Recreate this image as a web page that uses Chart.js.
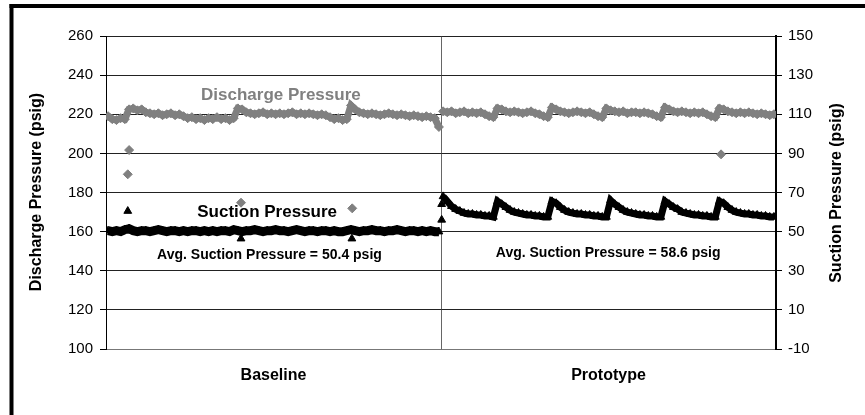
<!DOCTYPE html>
<html>
<head>
<meta charset="utf-8">
<script src="https://cdn.jsdelivr.net/npm/chart.js@4/dist/chart.umd.min.js"></script>
<style>
  html, body { margin: 0; padding: 0; background: #fff; }
  canvas { display: block; }
</style>
</head>
<body>
<canvas id="pressureChart" width="865" height="415"></canvas>
<script>
// categories on the x axis (each one is a block of 100 samples)
const categories = ['Baseline', 'Prototype'];

// axis ticks
const dischargeTicks = [100, 120, 140, 160, 180, 200, 220, 240, 260];
const suctionTicks = [-10, 10, 30, 50, 70, 90, 110, 130, 150];

// discharge pressure (psig)
const dischargeBaseline = [
    219, 217.5, 217, 218, 217.5,
    222.5, 223, 222, 222.5, 221,
    220.5, 220, 220.5, 219.5, 220, 220.5, 219.5, 220, 219,
    218, 218.5, 217.5, 218, 217, 218, 217.5, 218.5, 217.5, 218, 217,
    218,
    223, 222.5,
    221, 220.5, 220, 220.5, 221, 220, 220.5, 220, 220.5, 220,
    220.5, 221, 220, 220.5, 220, 220.5, 220, 219.5, 220, 219.5,
    218.5, 217.5, 218, 217, 217.5,
    224.5, 222.5,
    221, 220.5, 220, 220.5, 220, 219.5, 220, 220.5, 220, 219.5,
    220, 219.5, 219, 219.5, 219, 218.5, 219, 218.5, 218,
    213.5
];
const dischargePrototype = [
    221.5, 221, 221.5, 220.5, 221, 221.5, 220.5, 221, 220.5, 221, 220,
    219, 218.5, 223, 222.5,
    221.5, 221, 221.5, 221, 220.5, 221, 221.5, 220.5, 220,
    219, 218.5, 223.5, 222.5,
    221.5, 221, 220.5, 221, 221.5, 221, 220.5, 221, 220,
    219, 218.5, 223, 222,
    221.5, 221, 221.5, 220.5, 221, 221, 220.5, 221, 220.5, 220,
    219, 218.5, 223.5, 222.5,
    221.5, 221, 221.5, 221, 220.5, 221, 220.5, 221, 220,
    219, 218.5, 223, 222.5,
    221.5, 221, 220.5, 221, 220.5, 221, 220.5, 220, 220.5, 220, 219.5, 220
];
// stray discharge readings (sample position, psig)
const dischargeOutlierSample = [6.5, 6.9, 40.3, 73.5, 183.6];
const dischargeOutlierValue = [189.3, 201.7, 174.8, 171.9, 199.5];

// suction pressure (psig)
const suctionBaseline = [
    50.5, 50, 50.5, 50, 51, 51.5, 50.5, 50, 50.5, 50.5,
    50, 50.5, 51, 50.5, 50, 50.5, 50.5, 50, 50.5, 50,
    50.5, 50.5, 50, 50.5, 50, 50.5, 50, 50.5, 50.5, 50,
    51, 50.5, 50, 50.5, 50.5, 51, 50.5, 50, 50.5, 50.5,
    51, 50.5, 50.5, 50, 50.5, 51, 50.5, 50, 50.5, 50.5,
    50, 50.5, 50.5, 50, 50.5, 50, 50, 50.5, 51, 50.5,
    50, 50.5, 50.5, 51, 50.5, 50.5, 50, 50.5, 50.5, 51,
    50.5, 50, 50.5, 50.5, 50, 50.5, 50, 50.5, 50, 50
];
const suctionPrototype = [
    68, 65.5, 63, 61.5, 60.5, 59.5, 59, 59, 58.5, 58.5, 58, 58, 57.5,
    65.5, 64, 62.5, 61, 60, 59.5, 59, 58.5, 58.5, 58, 58, 57.5, 57.5,
    65.5, 64.5, 62.5, 61, 60, 59.5, 59, 59, 58.5, 58.5, 58, 58, 57.5, 57.5,
    66, 64, 62.5, 61, 60, 59.5, 59, 58.5, 58.5, 58, 58, 57.5, 57.5,
    65.5, 64, 62.5, 61.5, 60, 59.5, 59, 58.5, 58.5, 58, 58, 57.5, 57.5,
    65.5, 64.5, 62.5, 61, 60, 59.5, 59, 59, 58.5, 58.5, 58, 58, 57.5, 57.5
];
const suctionOutlierSample = [6.5, 40.3, 73.4, 100.2, 100.2];
const suctionOutlierValue = [60.5, 46.4, 46.4, 64, 56];

// text placed on the plot (sample position, discharge-axis value)
const notes = [
    { text: 'Discharge Pressure', x: 52.2, y: 229.5, color: '#808080', size: 17 },
    { text: 'Suction Pressure', x: 48.1, y: 170, color: '#000', size: 17 },
    { text: 'Avg. Suction Pressure = 50.4 psig', x: 48.8, y: 148, color: '#000', size: 14 },
    { text: 'Avg. Suction Pressure = 58.6 psig', x: 149.9, y: 148.8, color: '#000', size: 14 }
];

const FONT = "'Liberation Sans', Arial, sans-serif";
Chart.defaults.font.family = FONT;
Chart.defaults.color = '#000';

const toPoints = (values, start) => {
    const step = 100 / values.length;
    return values.map((v, i) => ({ x: start + (i + 0.5) * step, y: v }));
};
const zip = (xs, ys) => xs.map((x, i) => ({ x: x, y: ys[i] }));

const gray = '#808080';
const dischargeStyle = {
    yAxisID: 'y', pointStyle: 'rectRot', pointRadius: 4.5, pointBorderWidth: 1,
    backgroundColor: gray, borderColor: gray
};
const suctionStyle = {
    yAxisID: 'y2', pointStyle: 'triangle', pointRadius: 4.5, pointBorderWidth: 1,
    backgroundColor: '#000', borderColor: '#000'
};
// the recorded runs are so dense the markers merge into a band
const band = (width) => ({ showLine: true, borderWidth: width, tension: 0 });

// frame, axis titles and notes
const decorations = {
    id: 'decorations',
    beforeDraw(chart) {
        const c = chart.ctx;
        c.save();
        c.fillStyle = '#000';
        c.fillRect(9.5, 4, 4, chart.height);
        c.fillRect(9.5, 4, chart.width, 4);
        c.restore();
    },
    afterDraw(chart) {
        const c = chart.ctx;
        const xs = chart.scales.x, ys = chart.scales.y;
        c.save();
        c.textAlign = 'center';
        c.textBaseline = 'middle';
        c.font = 'bold 16px ' + FONT;
        c.fillStyle = '#000';
        c.translate(37, 192);
        c.rotate(-Math.PI / 2);
        c.fillText('Discharge Pressure (psig)', 0, 0);
        c.restore();

        c.save();
        c.textAlign = 'center';
        c.textBaseline = 'middle';
        c.font = 'bold 16px ' + FONT;
        c.fillStyle = '#000';
        c.translate(837, 193);
        c.rotate(-Math.PI / 2);
        c.fillText('Suction Pressure (psig)', 0, 0);
        c.restore();

        c.save();
        c.textAlign = 'center';
        c.textBaseline = 'middle';
        notes.forEach(n => {
            c.font = 'bold ' + n.size + 'px ' + FONT;
            c.fillStyle = n.color;
            c.fillText(n.text, xs.getPixelForValue(n.x), ys.getPixelForValue(n.y));
        });
        c.restore();
    }
};

new Chart(document.getElementById('pressureChart'), {
    type: 'scatter',
    data: {
        datasets: [
            Object.assign({ label: 'Suction', data: toPoints(suctionBaseline, 0) }, suctionStyle, band(9)),
            Object.assign({ label: 'Suction', data: toPoints(suctionPrototype, 100) }, suctionStyle, band(7)),
            Object.assign({ label: 'Suction', data: zip(suctionOutlierSample, suctionOutlierValue) }, suctionStyle),
            Object.assign({ label: 'Discharge', data: toPoints(dischargeBaseline, 0) }, dischargeStyle, band(7)),
            Object.assign({ label: 'Discharge', data: toPoints(dischargePrototype, 100) }, dischargeStyle, band(7)),
            Object.assign({ label: 'Discharge', data: zip(dischargeOutlierSample, dischargeOutlierValue) }, dischargeStyle)
        ]
    },
    options: {
        responsive: false,
        animation: false,
        events: [],
        layout: { padding: { top: 36, left: 0, right: 0, bottom: 0 } },
        plugins: { legend: { display: false }, tooltip: { enabled: false } },
        scales: {
            x: { type: 'linear', min: 0, max: 200, display: false },
            x2: {
                type: 'category',
                labels: categories,
                position: 'bottom',
                offset: true,
                grid: { offset: true, color: '#666', lineWidth: 1, drawTicks: false },
                border: { color: '#777', width: 1 },
                ticks: { padding: 17, font: { size: 16, weight: 'bold' }, color: '#000' },
                afterFit(scale) { scale.height = 66; }
            },
            y: {
                position: 'left',
                min: 100, max: 260,
                afterBuildTicks(scale) { scale.ticks = dischargeTicks.map(v => ({ value: v })); },
                ticks: { padding: 7, font: { size: 15 }, color: '#000' },
                grid: { color: '#222', lineWidth: 1, tickLength: 6, tickColor: '#000' },
                border: { color: '#000', width: 1 },
                afterFit(scale) { scale.width = 106; }
            },
            y2: {
                position: 'right',
                min: -10, max: 150,
                afterBuildTicks(scale) { scale.ticks = suctionTicks.map(v => ({ value: v })); },
                ticks: { padding: 6, font: { size: 15 }, color: '#000' },
                grid: { drawOnChartArea: false, tickLength: 6, tickColor: '#000' },
                border: { color: '#000', width: 2 },
                afterFit(scale) { scale.width = 89; }
            }
        }
    },
    plugins: [decorations]
});
</script>
</body>
</html>
